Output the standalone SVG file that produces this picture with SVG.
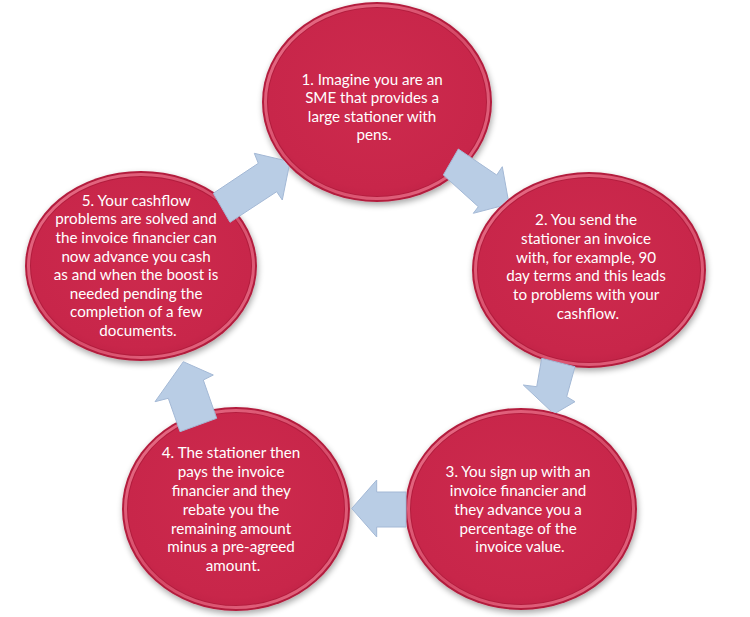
<svg xmlns="http://www.w3.org/2000/svg" width="750" height="617" viewBox="0 0 750 617">
<defs>
  <radialGradient id="faceGrad" cx="50%" cy="45%" r="60%">
    <stop offset="0" stop-color="#CD2A4D"/>
    <stop offset="0.85" stop-color="#C8264A"/>
    <stop offset="1" stop-color="#BE2145"/>
  </radialGradient>
  <linearGradient id="rimGrad" x1="0" y1="0" x2="1" y2="1">
    <stop offset="0" stop-color="#E9718A"/>
    <stop offset="0.5" stop-color="#D64A68"/>
    <stop offset="1" stop-color="#E46A84"/>
  </linearGradient>
  <filter id="shadow" x="-10%" y="-10%" width="125%" height="130%">
    <feGaussianBlur in="SourceAlpha" stdDeviation="3"/>
    <feOffset dx="1" dy="3" result="b"/>
    <feComponentTransfer><feFuncA type="linear" slope="0.35"/></feComponentTransfer>
    <feMerge><feMergeNode/><feMergeNode in="SourceGraphic"/></feMerge>
  </filter>
  <mask id="mE1" maskUnits="userSpaceOnUse" x="0" y="0" width="750" height="617">
    <rect width="750" height="617" fill="#fff"/>
    <ellipse cx="377" cy="102" rx="115" ry="100" fill="#000"/>
  </mask>
  <mask id="mE2" maskUnits="userSpaceOnUse" x="0" y="0" width="750" height="617">
    <rect width="750" height="617" fill="#fff"/>
    <ellipse cx="589" cy="270" rx="117" ry="98" fill="#000"/>
  </mask>
  <mask id="mE3" maskUnits="userSpaceOnUse" x="0" y="0" width="750" height="617">
    <rect width="750" height="617" fill="#fff"/>
    <ellipse cx="521" cy="509" rx="116" ry="101" fill="#000"/>
  </mask>
  <mask id="mE4" maskUnits="userSpaceOnUse" x="0" y="0" width="750" height="617">
    <rect width="750" height="617" fill="#fff"/>
    <ellipse cx="236" cy="509" rx="114" ry="102" fill="#000"/>
  </mask>
  <mask id="mE5" maskUnits="userSpaceOnUse" x="0" y="0" width="750" height="617">
    <rect width="750" height="617" fill="#fff"/>
    <ellipse cx="141" cy="266" rx="116" ry="95" fill="#000"/>
  </mask>
</defs>
<style>
  .base { fill: #B31D3E; filter: url(#shadow); }
  .rim { fill: none; stroke: url(#rimGrad); stroke-width: 3; }
  .face { fill: url(#faceGrad); }
  .lbl { font-family: Lato, "Open Sans", "Liberation Sans", sans-serif; font-size: 15.2px; fill: #FFFFFF; text-anchor: middle; }
  .arrow { fill: #B9CDE5; stroke: #A3B8D5; stroke-width: 1; stroke-linejoin: miter; }
</style>
<rect width="750" height="617" fill="#FFFFFF"/>

<g id="node1">
  <ellipse class="base" cx="377" cy="102" rx="115" ry="100"/>
  <ellipse class="rim" cx="377" cy="102" rx="111.5" ry="96.5"/>
  <ellipse class="face" cx="377" cy="102" rx="109" ry="94"/>
  <text class="lbl">
    <tspan x="374" y="84.5">1. Imagine you are an</tspan>
    <tspan x="374" y="103">SME that provides a</tspan>
    <tspan x="374" y="121.5">large stationer with</tspan>
    <tspan x="374" y="140">pens.</tspan>
  </text>
</g>

<g id="node2">
  <ellipse class="base" cx="589" cy="270" rx="117" ry="98"/>
  <ellipse class="rim" cx="589" cy="270" rx="113.5" ry="94.5"/>
  <ellipse class="face" cx="589" cy="270" rx="111" ry="92"/>
  <text class="lbl">
    <tspan x="588" y="225">2. You send the</tspan>
    <tspan x="588" y="243.8">stationer an invoice</tspan>
    <tspan x="588" y="262.6">with, for example, 90</tspan>
    <tspan x="588" y="281.4">day terms and this leads</tspan>
    <tspan x="588" y="300.2">to problems with your</tspan>
    <tspan x="588" y="319">cashflow.</tspan>
  </text>
</g>

<g id="node3">
  <ellipse class="base" cx="521" cy="509" rx="116" ry="101"/>
  <ellipse class="rim" cx="521" cy="509" rx="112.5" ry="97.5"/>
  <ellipse class="face" cx="521" cy="509" rx="110" ry="95"/>
  <text class="lbl">
    <tspan x="520" y="477.3">3. You sign up with an</tspan>
    <tspan x="520" y="496">invoice financier and</tspan>
    <tspan x="520" y="514.8">they advance you a</tspan>
    <tspan x="520" y="533.6">percentage of the</tspan>
    <tspan x="520" y="552.3">invoice value.</tspan>
  </text>
</g>

<g id="node4">
  <ellipse class="base" cx="236" cy="509" rx="114" ry="102"/>
  <ellipse class="rim" cx="236" cy="509" rx="110.5" ry="98.5"/>
  <ellipse class="face" cx="236" cy="509" rx="108" ry="96"/>
  <text class="lbl">
    <tspan x="233" y="458.3">4. The stationer then</tspan>
    <tspan x="233" y="477.1">pays the invoice</tspan>
    <tspan x="233" y="495.9">financier and they</tspan>
    <tspan x="233" y="514.7">rebate you the</tspan>
    <tspan x="233" y="533.5">remaining amount</tspan>
    <tspan x="233" y="552.3">minus a pre-agreed</tspan>
    <tspan x="233" y="571">amount.</tspan>
  </text>
</g>

<g id="node5">
  <ellipse class="base" cx="141" cy="266" rx="116" ry="95"/>
  <ellipse class="rim" cx="141" cy="266" rx="112.5" ry="91.5"/>
  <ellipse class="face" cx="141" cy="266" rx="110" ry="89"/>
  <text class="lbl">
    <tspan x="138" y="205.7">5. Your cashflow</tspan>
    <tspan x="138" y="224.3">problems are solved and</tspan>
    <tspan x="138" y="242.9">the invoice financier can</tspan>
    <tspan x="138" y="261.5">now advance you cash</tspan>
    <tspan x="138" y="280.1">as and when the boost is</tspan>
    <tspan x="138" y="298.7">needed pending the</tspan>
    <tspan x="138" y="317.3">completion of a few</tspan>
    <tspan x="138" y="335.9">documents.</tspan>
  </text>
</g>

<g id="connectors">
  <polygon id="arrow1-2" class="arrow" mask="url(#mE2)" points="458.3,149 496.7,175 502.3,166.7 509,204 473.3,213.3 478.3,206.7 443.3,175"/>
  <polygon id="arrow2-3" class="arrow" mask="url(#mE3)" points="541.7,358.3 536.7,386.7 523.3,385 554,414 575,401.7 566.7,396.7 575,366.7"/>
  <polygon id="arrow3-4" class="arrow" mask="url(#mE4)" points="406,492 376.7,492 376.7,480 351.7,508.5 376.7,537 376.7,527 406,527"/>
  <polygon id="arrow4-5" class="arrow" mask="url(#mE5)" points="180,431.7 168.3,398.3 155,401.7 183.3,361.7 213.3,375 203.3,380 216.7,418.3"/>
  <polygon id="arrow5-1" class="arrow" mask="url(#mE1)" points="213.3,193.3 258.3,163.3 254.3,153.3 290,161.7 282.3,200 276.7,191.7 230,222.3"/>
</g>
</svg>
